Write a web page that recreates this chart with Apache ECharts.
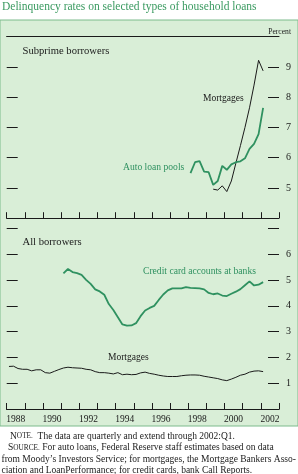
<!DOCTYPE html>
<html>
<head>
<meta charset="utf-8">
<script src="https://cdn.jsdelivr.net/npm/echarts@6/dist/echarts.min.js"></script>
<style>
    html, body { margin: 0; padding: 0; background: #fff; }
    #chart { width: 298px; height: 474px; }
</style>
</head>
<body>
<div id="chart"></div>
<script>
(function () {
    'use strict';

    // year labels on the bottom axis
    var years = ['1988', '1989', '1990', '1991', '1992', '1993', '1994', '1995',
        '1996', '1997', '1998', '1999', '2000', '2001', '2002'];

    // subprime mortgages, starts 1999:Q2
    var subprimeMortgages = [4.96, 4.93, 5.07, 4.88, 5.23, 5.82, 6.40, 7.00, 7.65, 8.40, 9.22, 8.87];

    // auto loan pools, starts 1998:Q1
    var autoLoanPools = [5.49, 5.85, 5.89, 5.54, 5.52, 5.10, 5.23, 5.73, 5.60, 5.78, 5.85, 5.88,
        5.98, 6.29, 6.46, 6.78, 7.65];

    // credit card accounts at banks, starts 1991:Q1
    var creditCards = [5.26, 5.43, 5.31, 5.27, 5.20, 5.01, 4.85, 4.64, 4.56, 4.43, 4.07, 3.84,
        3.56, 3.28, 3.23, 3.24, 3.33, 3.60, 3.82, 3.92, 4.00, 4.23, 4.44, 4.60,
        4.68, 4.68, 4.68, 4.73, 4.70, 4.69, 4.68, 4.64, 4.50, 4.45, 4.48, 4.40,
        4.38, 4.47, 4.55, 4.65, 4.80, 4.95, 4.79, 4.82, 4.92];

    // all mortgages, starts 1988:Q1
    var allMortgages = [1.65, 1.66, 1.57, 1.54, 1.54, 1.48, 1.52, 1.52, 1.41, 1.39, 1.46, 1.53,
        1.59, 1.62, 1.60, 1.59, 1.58, 1.54, 1.52, 1.45, 1.41, 1.41, 1.39, 1.36,
        1.41, 1.33, 1.35, 1.33, 1.34, 1.40, 1.43, 1.38, 1.35, 1.31, 1.28, 1.26,
        1.26, 1.26, 1.29, 1.31, 1.32, 1.32, 1.31, 1.27, 1.24, 1.21, 1.18, 1.13,
        1.10, 1.16, 1.23, 1.31, 1.35, 1.43, 1.47, 1.48, 1.45];

    var subprimeTicks = [5, 6, 7, 8, 9];
    var allTicks = [1, 2, 3, 4, 5, 6];

    var SERIF = '"Liberation Serif", "Times New Roman", serif';
    var GREEN = '#2f9160';
    var INK = '#1a1a1a';

    // quarter midpoints on a year scale
    function quarterly(startYear, startQ, values) {
        return values.map(function (v, i) {
            return [startYear + (startQ - 1 + i + 0.5) / 4, v];
        });
    }

    function yAxis(grid, pos, min, max, ticks) {
        return {
            type: 'value', gridIndex: grid, position: pos,
            min: min, max: max, interval: 1,
            axisLine: {show: false},
            axisTick: {show: true, inside: true, length: 11, lineStyle: {color: INK, width: 1}},
            splitLine: {show: false},
            axisLabel: {
                show: pos === 'right', margin: 7,
                fontFamily: SERIF, fontSize: 10, color: INK,
                formatter: function (v) {
                    return ticks.indexOf(v) >= 0 ? String(v) : '';
                }
            }
        };
    }

    function xAxisBottom(grid) {
        return {
            type: 'value', gridIndex: grid, position: 'bottom',
            min: 1988, max: 2003, interval: 1,
            axisLine: {show: true, lineStyle: {color: INK, width: 1}},
            axisTick: {show: true, inside: true, length: 6, lineStyle: {color: INK, width: 1}},
            axisLabel: {show: false},
            splitLine: {show: false}
        };
    }

    function xAxisTop(grid) {
        return {
            type: 'value', gridIndex: grid, position: 'top',
            min: 1988, max: 2003,
            axisLine: {show: true, lineStyle: {color: INK, width: 1}},
            axisTick: {show: false},
            axisLabel: {show: false},
            splitLine: {show: false}
        };
    }

    function label(text, x, y, size, color) {
        return {
            type: 'text', x: x, y: y, z: 10,
            style: {
                text: text, fontFamily: SERIF, fontSize: size, fill: color,
                align: 'left', verticalAlign: 'middle'
            }
        };
    }

    var noteRich = {
        c: {fontFamily: SERIF, fontSize: 9.5, fill: INK},
        s: {fontFamily: SERIF, fontSize: 7.3, fill: INK}
    };

    function note(text, x, y) {
        return {
            type: 'text', x: x, y: y, z: 10,
            style: {
                text: text, fontFamily: SERIF, fontSize: 9.5, fill: INK,
                align: 'left', verticalAlign: 'middle', rich: noteRich
            }
        };
    }

    var chart = echarts.init(document.getElementById('chart'));

    chart.setOption({
        backgroundColor: '#ffffff',
        animation: false,
        grid: [
            {left: 6.7, right: 19, top: 36.7, height: 181.5},
            {left: 6.7, right: 19, top: 228.5, height: 180.5}
        ],
        xAxis: [
            xAxisBottom(0),
            xAxisTop(0),
            xAxisBottom(1),
            xAxisTop(1),
            {
                type: 'category', gridIndex: 1, position: 'bottom',
                data: years, boundaryGap: true,
                axisLine: {show: false},
                axisTick: {show: false},
                axisLabel: {
                    interval: 1, margin: 5,
                    fontFamily: SERIF, fontSize: 9.5, color: INK
                }
            }
        ],
        yAxis: [
            yAxis(0, 'left', 4, 10, subprimeTicks),
            yAxis(0, 'right', 4, 10, subprimeTicks),
            yAxis(1, 'left', 0, 7, allTicks),
            yAxis(1, 'right', 0, 7, allTicks)
        ],
        graphic: [
            {
                type: 'rect', z: -100, silent: true,
                shape: {x: 0, y: 20, width: 298, height: 406},
                style: {fill: '#d9eed7', stroke: '#7dbb8c', lineWidth: 1}
            },
            label('Delinquency rates on selected types of household loans', 2, 6.5, 11.5, '#3a9a60'),
            {
                type: 'text', x: 291, y: 31.5, z: 10,
                style: {
                    text: 'Percent', fontFamily: SERIF, fontSize: 7.6, fill: INK,
                    align: 'right', verticalAlign: 'middle'
                }
            },
            label('Subprime borrowers', 22.5, 51, 10.6, INK),
            label('Mortgages', 203, 98, 9.5, INK),
            label('Auto loan pools', 123, 167, 9.6, GREEN),
            label('All borrowers', 22.5, 242.7, 10.6, INK),
            label('Credit card accounts at banks', 143, 271.7, 9.6, GREEN),
            label('Mortgages', 108, 357.7, 9.5, INK),
            note('{c|N}{s|OTE.}  The data are quarterly and extend through 2002:Q1.', 10, 436),
            note('{c|S}{s|OURCE.} For auto loans, Federal Reserve staff estimates based on data', 8, 447.7),
            note('from Moody\u2019s Investors Service; for mortgages, the Mortgage Bankers Asso-', 1.5, 459.2),
            note('ciation and LoanPerformance; for credit cards, bank Call Reports.', 1.5, 470.7)
        ],
        series: [
            {
                type: 'line', name: 'Subprime mortgages', xAxisIndex: 0, yAxisIndex: 0,
                data: quarterly(1999, 2, subprimeMortgages),
                showSymbol: false, symbol: 'none',
                lineStyle: {color: INK, width: 1}
            },
            {
                type: 'line', name: 'Auto loan pools', xAxisIndex: 0, yAxisIndex: 0,
                data: quarterly(1998, 1, autoLoanPools),
                showSymbol: false, symbol: 'none',
                lineStyle: {color: GREEN, width: 1.8}
            },
            {
                type: 'line', name: 'Credit card accounts at banks', xAxisIndex: 2, yAxisIndex: 2,
                data: quarterly(1991, 1, creditCards),
                showSymbol: false, symbol: 'none',
                lineStyle: {color: GREEN, width: 1.8}
            },
            {
                type: 'line', name: 'Mortgages', xAxisIndex: 2, yAxisIndex: 2,
                data: quarterly(1988, 1, allMortgages),
                showSymbol: false, symbol: 'none',
                lineStyle: {color: INK, width: 1}
            }
        ]
    });
})();
</script>
</body>
</html>
